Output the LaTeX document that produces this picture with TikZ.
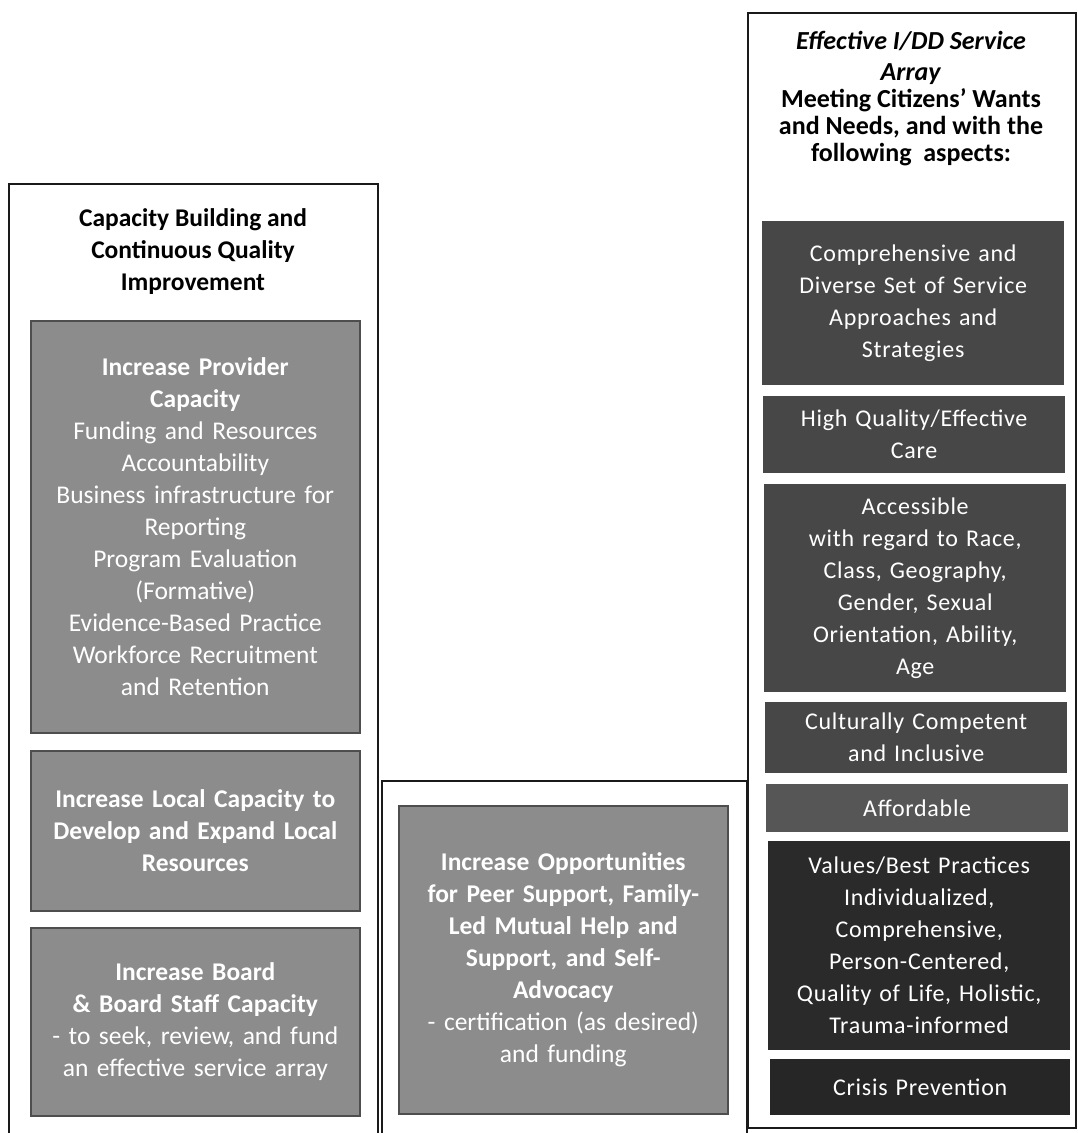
\documentclass[tikz,border=0pt]{standalone}
\usepackage{fontspec}
\setmainfont{Carlito}
\newfontfamily\widefont[LetterSpace=3]{Carlito}
\definecolor{frameblk}{HTML}{1A1A1A}
\definecolor{graybox}{HTML}{8C8C8C}
\definecolor{grayedge}{HTML}{4E4E4E}
\definecolor{darkbox}{HTML}{474747}
\definecolor{darkerbox}{HTML}{2A2A2A}
\tikzset{
  frame/.style={draw=frameblk, line width=2.4pt, fill=white, anchor=north west, inner sep=0pt},
  graycell/.style={draw=grayedge, line width=1.6pt, fill=graybox, anchor=north west,
    text=white, align=center, inner sep=4pt, font=\fontsize{25.5}{32}\selectfont},
  darkcell/.style={fill=darkbox, anchor=north west, text=white, align=center, inner sep=2pt,
    font=\widefont\fontsize{24}{32}\selectfont},
  titletext/.style={text=black, align=center, inner sep=0pt}
}
\begin{document}
\begin{tikzpicture}[x=1pt,y=-1pt]
\useasboundingbox (0,0) rectangle (1077,1133);
\clip (0,0) rectangle (1077,1133);
\fill[white] (0,0) rectangle (1077,1133);

% ---------- left column ----------
\node[frame, minimum width=369pt, minimum height=980pt] (leftframe) at (8,183) {};
\node[titletext, font=\bfseries\fontsize{25.5}{32}\selectfont] (lefttitle) at (193,252)
  {Capacity Building and\\Continuous Quality\\Improvement};
\node[graycell, minimum width=329pt, minimum height=412pt, text width=318pt] (provider) at (30,320)
  {\textbf{Increase Provider}\\\textbf{Capacity}\\Funding and Resources\\Accountability\\Business infrastructure for\\Reporting\\Program Evaluation\\(Formative)\\Evidence-Based Practice\\Workforce Recruitment\\and Retention};
\node[graycell, minimum width=329pt, minimum height=160pt, text width=318pt] (local) at (30,750)
  {\textbf{Increase Local Capacity to}\\\textbf{Develop and Expand Local}\\\textbf{Resources}};
\node[graycell, minimum width=329pt, minimum height=188pt, text width=318pt] (board) at (30,927)
  {\textbf{Increase Board}\\\textbf{\& Board Staff Capacity}\\- to seek, review, and fund\\an effective service array};

% ---------- middle column ----------
\node[frame, minimum width=365pt, minimum height=400pt] (midframe) at (381,780) {};
\node[graycell, minimum width=329pt, minimum height=308pt, text width=318pt] (peer) at (398,805)
  {\textbf{Increase Opportunities}\\\textbf{for Peer Support, Family-}\\\textbf{Led Mutual Help and}\\\textbf{Support, and Self-}\\\textbf{Advocacy}\\- certification (as desired)\\and funding};

% ---------- right column ----------
\node[frame, minimum width=328pt, minimum height=1115pt] (rightframe) at (747,12) {};
\node[titletext, font=\bfseries\fontsize{26}{27}\selectfont] (righttitle) at (911,99)
  {\textit{Effective I/DD Service}\\[4pt]\textit{Array}\\Meeting Citizens’ Wants\\and Needs, and with the\\following\ \ aspects:};
\node[darkcell, minimum width=302pt, minimum height=164pt, text width=296pt] (comp) at (762,221)
  {Comprehensive and\\Diverse Set of Service\\Approaches and\\Strategies};
\node[darkcell, minimum width=302pt, minimum height=77pt, text width=296pt] (quality) at (763,396)
  {High Quality/Effective\\Care};
\node[darkcell, minimum width=302pt, minimum height=208pt, text width=296pt] (access) at (764,484)
  {Accessible\\with regard to Race,\\Class, Geography,\\Gender, Sexual\\Orientation, Ability,\\Age};
\node[darkcell, minimum width=302pt, minimum height=71pt, text width=296pt] (culture) at (765,702)
  {Culturally Competent\\and Inclusive};
\node[darkcell, fill=darkbox!92!white, minimum width=302pt, minimum height=48pt, text width=296pt] (afford) at (766,784)
  {Affordable};
\node[darkcell, fill=darkerbox, minimum width=302pt, minimum height=209pt, text width=296pt] (values) at (768,841)
  {Values/Best Practices\\Individualized,\\Comprehensive,\\Person-Centered,\\Quality of Life, Holistic,\\Trauma-informed};
\node[darkcell, fill=darkerbox!90!black, minimum width=300pt, minimum height=56pt, text width=294pt] (crisis) at (770,1059)
  {Crisis Prevention};
\end{tikzpicture}
\end{document}
